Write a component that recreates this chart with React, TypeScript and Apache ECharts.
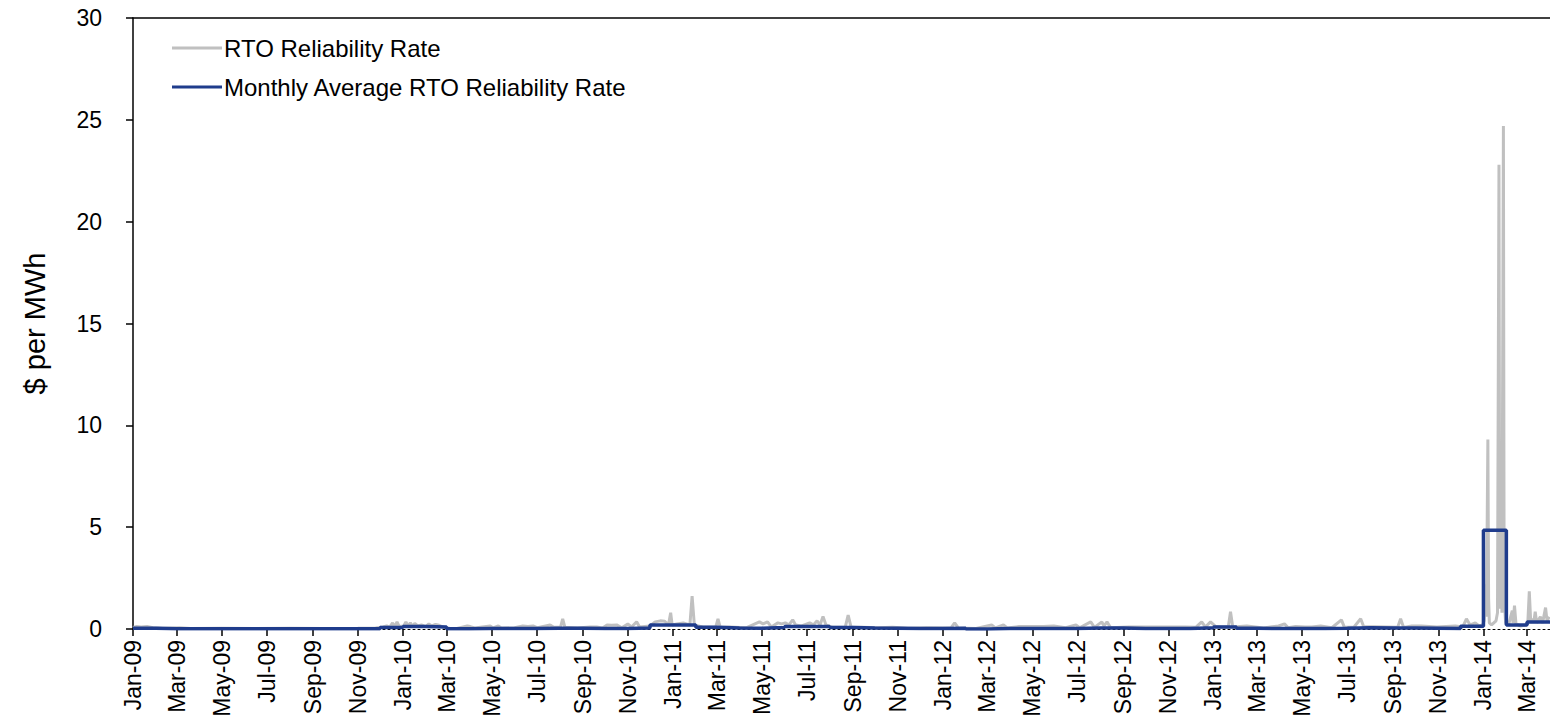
import React, { useEffect, useRef } from "react";
import * as echarts from "echarts";

// Monthly average RTO reliability rate, Jan-09 .. Mar-14 ($/MWh)
const monthlyAvg2009 = [0.04, 0.01, 0.01, 0.01, 0.01, 0.01, 0.01, 0.01, 0.01, 0.01, 0.01, 0.07];
const monthlyAvg2010 = [0.12, 0.1, 0.01, 0.02, 0.03, 0.03, 0.04, 0.04, 0.03, 0.03, 0.05, 0.2];
const monthlyAvg2011 = [0.2, 0.08, 0.05, 0.04, 0.07, 0.12, 0.12, 0.07, 0.05, 0.04, 0.02, 0.03];
const monthlyAvg2012 = [0.04, 0.0, 0.03, 0.03, 0.03, 0.03, 0.05, 0.05, 0.03, 0.03, 0.03, 0.06];
const monthlyAvg2013 = [0.1, 0.04, 0.02, 0.03, 0.03, 0.04, 0.06, 0.05, 0.05, 0.04, 0.03, 0.13];
const monthlyAvg2014 = [4.85, 0.2, 0.34];

// Daily RTO reliability rate (readable points), [date, $/MWh]
const daily2009: [string, number][] = [
  ["2009-01-01", 0.08], ["2009-01-06", 0.12], ["2009-01-12", 0.1], ["2009-01-20", 0.12], ["2009-01-28", 0.06],
  ["2009-02-10", 0.04], ["2009-03-05", 0.06], ["2009-03-20", 0.03], ["2009-05-01", 0.04], ["2009-06-15", 0.03],
  ["2009-08-01", 0.04], ["2009-09-15", 0.03], ["2009-11-01", 0.04], ["2009-11-25", 0.05], ["2009-12-05", 0.1],
  ["2009-12-10", 0.15], ["2009-12-14", 0.08], ["2009-12-18", 0.3], ["2009-12-21", 0.1], ["2009-12-24", 0.35],
  ["2009-12-27", 0.12],
];
const daily2010: [string, number][] = [
  ["2010-01-02", 0.15], ["2010-01-05", 0.35], ["2010-01-08", 0.15], ["2010-01-11", 0.3], ["2010-01-14", 0.12],
  ["2010-01-17", 0.28], ["2010-01-21", 0.15], ["2010-01-26", 0.2], ["2010-02-01", 0.12], ["2010-02-05", 0.25],
  ["2010-02-09", 0.15], ["2010-02-14", 0.22], ["2010-02-19", 0.18], ["2010-02-25", 0.08], ["2010-03-05", 0.04],
  ["2010-03-15", 0.03], ["2010-03-29", 0.15], ["2010-04-02", 0.12], ["2010-04-08", 0.05], ["2010-04-29", 0.15],
  ["2010-05-03", 0.05], ["2010-05-10", 0.15], ["2010-05-14", 0.05], ["2010-06-01", 0.06], ["2010-06-12", 0.15],
  ["2010-06-19", 0.12], ["2010-06-26", 0.15], ["2010-07-02", 0.06], ["2010-07-19", 0.2], ["2010-07-24", 0.08],
  ["2010-08-02", 0.08], ["2010-08-05", 0.5], ["2010-08-08", 0.08], ["2010-08-25", 0.05], ["2010-09-11", 0.1],
  ["2010-09-20", 0.1], ["2010-09-28", 0.05], ["2010-10-04", 0.2], ["2010-10-10", 0.18], ["2010-10-17", 0.2],
  ["2010-10-24", 0.06], ["2010-11-01", 0.25], ["2010-11-06", 0.1], ["2010-11-13", 0.35], ["2010-11-17", 0.1],
  ["2010-12-01", 0.15], ["2010-12-08", 0.35], ["2010-12-15", 0.4], ["2010-12-21", 0.38], ["2010-12-26", 0.2],
  ["2010-12-29", 0.8], ["2010-12-31", 0.2],
];
const daily2011: [string, number][] = [
  ["2011-01-06", 0.25], ["2011-01-15", 0.3], ["2011-01-24", 0.2], ["2011-01-27", 1.62], ["2011-01-30", 0.2],
  ["2011-02-10", 0.1], ["2011-02-20", 0.08], ["2011-02-28", 0.1], ["2011-03-03", 0.5], ["2011-03-06", 0.08],
  ["2011-03-19", 0.1], ["2011-04-10", 0.06], ["2011-04-28", 0.35], ["2011-05-03", 0.25], ["2011-05-09", 0.35],
  ["2011-05-14", 0.1], ["2011-05-23", 0.3], ["2011-05-28", 0.25], ["2011-06-02", 0.3], ["2011-06-07", 0.2],
  ["2011-06-12", 0.45], ["2011-06-16", 0.2], ["2011-06-24", 0.15], ["2011-07-05", 0.3], ["2011-07-10", 0.2],
  ["2011-07-15", 0.4], ["2011-07-19", 0.2], ["2011-07-23", 0.62], ["2011-07-27", 0.2], ["2011-08-05", 0.08],
  ["2011-08-22", 0.08], ["2011-08-26", 0.68], ["2011-08-30", 0.08], ["2011-09-15", 0.08], ["2011-10-05", 0.06],
  ["2011-10-25", 0.08], ["2011-11-15", 0.04], ["2011-12-10", 0.06],
];
const daily2012: [string, number][] = [
  ["2012-01-12", 0.05], ["2012-01-17", 0.3], ["2012-01-22", 0.05], ["2012-02-15", 0.03], ["2012-03-07", 0.2],
  ["2012-03-12", 0.05], ["2012-03-23", 0.2], ["2012-03-28", 0.05], ["2012-04-13", 0.12], ["2012-05-16", 0.12],
  ["2012-05-30", 0.15], ["2012-06-15", 0.06], ["2012-06-29", 0.2], ["2012-07-04", 0.06], ["2012-07-19", 0.35],
  ["2012-07-24", 0.08], ["2012-08-03", 0.35], ["2012-08-06", 0.15], ["2012-08-10", 0.35], ["2012-08-15", 0.06],
  ["2012-09-08", 0.1], ["2012-10-23", 0.1], ["2012-11-24", 0.1], ["2012-12-08", 0.08], ["2012-12-16", 0.35],
  ["2012-12-21", 0.1], ["2012-12-28", 0.35],
];
const daily2013: [string, number][] = [
  ["2013-01-04", 0.12], ["2013-01-12", 0.1], ["2013-01-21", 0.1], ["2013-01-24", 0.85], ["2013-01-27", 0.1],
  ["2013-02-15", 0.15], ["2013-03-10", 0.05], ["2013-03-30", 0.15], ["2013-04-07", 0.25], ["2013-04-12", 0.06],
  ["2013-04-22", 0.12], ["2013-05-05", 0.1], ["2013-05-14", 0.1], ["2013-05-26", 0.15], ["2013-06-10", 0.06],
  ["2013-06-23", 0.45], ["2013-06-27", 0.08], ["2013-07-10", 0.1], ["2013-07-19", 0.5], ["2013-07-23", 0.12],
  ["2013-08-22", 0.1], ["2013-09-07", 0.08], ["2013-09-11", 0.5], ["2013-09-15", 0.08], ["2013-09-26", 0.15],
  ["2013-10-09", 0.15], ["2013-10-30", 0.1], ["2013-11-24", 0.15], ["2013-12-04", 0.1], ["2013-12-09", 0.5],
  ["2013-12-14", 0.2], ["2013-12-21", 0.3], ["2013-12-26", 0.15], ["2013-12-31", 0.2],
];
const daily2014: [string, number][] = [
  ["2014-01-02", 0.4], ["2014-01-04", 2.2], ["2014-01-05", 0.6], ["2014-01-07", 9.3], ["2014-01-08", 1.5],
  ["2014-01-09", 0.3], ["2014-01-12", 0.2], ["2014-01-15", 0.3], ["2014-01-18", 0.4], ["2014-01-20", 0.8],
  ["2014-01-22", 22.8], ["2014-01-23", 1.0], ["2014-01-25", 6.9], ["2014-01-26", 0.8], ["2014-01-28", 24.7],
  ["2014-01-29", 1.5], ["2014-01-31", 0.3], ["2014-02-04", 0.2], ["2014-02-09", 0.9], ["2014-02-10", 0.3],
  ["2014-02-12", 1.15], ["2014-02-14", 0.25], ["2014-02-20", 0.15], ["2014-02-27", 0.2], ["2014-03-02", 0.3],
  ["2014-03-04", 1.85], ["2014-03-06", 0.3], ["2014-03-09", 0.5], ["2014-03-10", 0.3], ["2014-03-12", 0.85],
  ["2014-03-14", 0.3], ["2014-03-19", 0.6], ["2014-03-22", 0.3], ["2014-03-26", 1.05], ["2014-03-28", 0.4],
  ["2014-03-31", 0.6],
];

const monthNames = ["Jan", "Feb", "Mar", "Apr", "May", "Jun", "Jul", "Aug", "Sep", "Oct", "Nov", "Dec"];
const firstDay = "2009-01-01";
const lastDay = "2014-04-01";

const FONT = "'Liberation Sans', Arial, sans-serif";

function buildCategories(): string[] {
  const out: string[] = [];
  const start = Date.parse(firstDay + "T00:00:00Z");
  const end = Date.parse(lastDay + "T00:00:00Z");
  for (let t = start; t <= end; t += 86400000) {
    out.push(new Date(t).toISOString().slice(0, 10));
  }
  return out;
}

function isTickDay(value: string): boolean {
  return value.slice(8) === "01" && parseInt(value.slice(5, 7), 10) % 2 === 1;
}

export default function App() {
  const ref = useRef<HTMLDivElement>(null);
  useEffect(() => {
    if (!ref.current) return;
    const chart = echarts.init(ref.current, undefined, { renderer: "svg" });
    const categories = buildCategories();
    const monthly = [
      ...monthlyAvg2009, ...monthlyAvg2010, ...monthlyAvg2011,
      ...monthlyAvg2012, ...monthlyAvg2013, ...monthlyAvg2014,
    ];
    const monthStarts = categories.filter((d) => d.slice(8) === "01");
    const monthlyData: [string, number][] = monthly.map((v, i) => [monthStarts[i], v]);
    monthlyData.push([lastDay, monthly[monthly.length - 1]]);
    const dailyData = [...daily2009, ...daily2010, ...daily2011, ...daily2012, ...daily2013, ...daily2014];

    chart.setOption({
      animation: false,
      backgroundColor: "#ffffff",
      textStyle: { fontFamily: FONT },
      grid: { left: 133, right: 0, top: 18, bottom: 99, containLabel: false },
      legend: {
        orient: "vertical",
        left: 167,
        top: 29,
        icon: "rect",
        itemWidth: 50,
        itemHeight: 3,
        itemGap: 11,
        textStyle: { fontFamily: FONT, fontSize: 24, color: "#000", lineHeight: 28, padding: [0, 0, 0, -3] },
        data: ["RTO Reliability Rate", "Monthly Average RTO Reliability Rate"],
      },
      xAxis: [
        {
          type: "category",
          data: categories,
          boundaryGap: false,
          axisLine: { show: true, lineStyle: { color: "#000", width: 1, type: [2, 3] } },
          axisTick: { show: true, length: 7, interval: (i: number, v: string) => isTickDay(v), lineStyle: { color: "#000", width: 1.5 } },
          axisLabel: {
            interval: (i: number, v: string) => isTickDay(v),
            rotate: 90,
            margin: 11,
            color: "#000",
            fontSize: 23,
            fontFamily: FONT,
            formatter: (v: string) => monthNames[parseInt(v.slice(5, 7), 10) - 1] + "-" + v.slice(2, 4),
          },
          splitLine: { show: false },
        },
        {
          type: "value",
          position: "top",
          min: 0,
          max: 1,
          axisLine: { show: true, onZero: false, lineStyle: { color: "#000", width: 1.5 } },
          axisTick: { show: false },
          axisLabel: { show: false },
          splitLine: { show: false },
        },
      ],
      yAxis: {
        type: "value",
        min: 0,
        max: 30,
        interval: 5,
        name: "$ per MWh",
        nameLocation: "middle",
        nameGap: 84,
        nameRotate: 90,
        nameTextStyle: { fontSize: 29, color: "#000", fontFamily: FONT },
        axisLine: { show: true, lineStyle: { color: "#000", width: 1.5 } },
        axisTick: { show: true, length: 7, lineStyle: { color: "#000", width: 1.5 } },
        axisLabel: { color: "#000", fontSize: 23, margin: 31, fontFamily: FONT },
        splitLine: { show: false },
      },
      series: [
        {
          name: "RTO Reliability Rate",
          type: "line",
          xAxisIndex: 0,
          data: dailyData,
          symbol: "none",
          lineStyle: { color: "#C0C0C0", width: 3 },
          itemStyle: { color: "#C0C0C0" },
          z: 2,
        },
        {
          name: "Monthly Average RTO Reliability Rate",
          type: "line",
          xAxisIndex: 0,
          step: "end",
          data: monthlyData,
          symbol: "none",
          lineStyle: { color: "#1F3C8C", width: 3.5 },
          itemStyle: { color: "#1F3C8C" },
          z: 3,
        },
      ],
    });
    return () => chart.dispose();
  }, []);
  return <div ref={ref} style={{ position: "fixed", left: 0, top: 0, width: 1550, height: 728 }} />;
}
